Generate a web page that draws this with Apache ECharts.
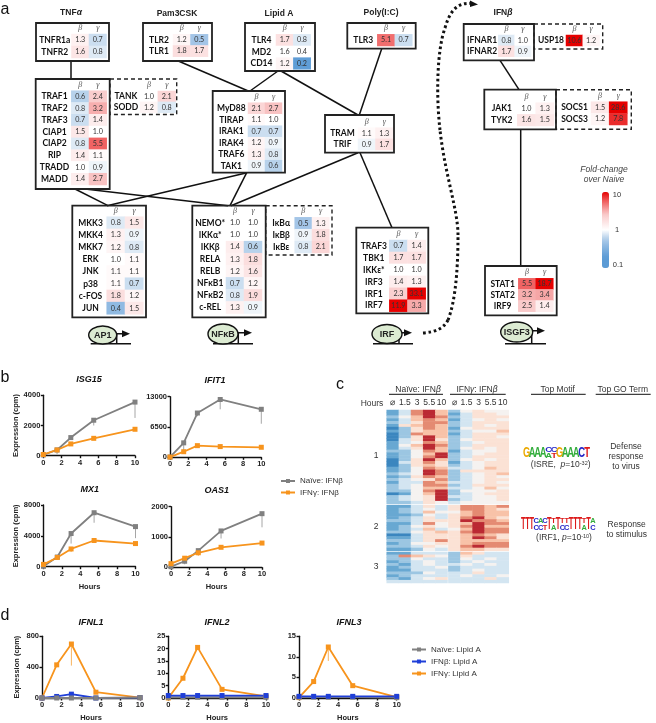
<!DOCTYPE html>
<html><head><meta charset="utf-8">
<script src="https://cdn.jsdelivr.net/npm/echarts@6/dist/echarts.min.js"></script>
<style>html,body{margin:0;padding:0;background:#fff}#c{width:656px;height:723px}</style></head>
<body><div id="c"></div>
<script>
// ---------- fold-change tables (panel a): [beta, gamma] per gene ----------
const tnfGenes=['TNFR1a','TNFR2'];            const tnfVals=[[1.3,.7],[1.6,.8]];
const pamGenes=['TLR2','TLR1'];               const pamVals=[[1.2,.5],[1.8,1.7]];
const lipidGenes=['TLR4','MD2','CD14'];       const lipidVals=[[1.7,.8],[1.6,.4],[1.2,.2]];
const polyGenes=['TLR3'];                     const polyVals=[[5.1,.7]];
const trafGenes=['TRAF1','TRAF2','TRAF3','CIAP1','CIAP2','RIP','TRADD','MADD'];
const trafVals=[[.6,2.4],[.8,3.2],[.7,1.4],[1.5,1.0],[.8,5.5],[1.4,1.1],[1.0,.9],[1.4,2.7]];
const tankGenes=['TANK','SODD'];              const tankVals=[[1.0,2.1],[1.2,.8]];
const myd88Genes=['MyD88','TIRAP','IRAK1','IRAK4','TRAF6','TAK1'];
const myd88Vals=[[2.1,2.7],[1.1,1.0],[.7,.7],[1.2,.9],[1.3,.8],[.9,.6]];
const tramGenes=['TRAM','TRIF'];              const tramVals=[[1.1,1.3],[.9,1.7]];
const mkkGenes=['MKK3','MKK4','MKK7','ERK','JNK','p38','c-FOS','JUN'];
const mkkVals=[[.8,1.5],[1.3,.9],[1.2,.8],[1.0,1.1],[1.1,1.1],[1.1,.7],[1.8,1.2],[.4,1.5]];
const nemoGenes=['NEMO*','IKKα*','IKKβ','RELA','RELB','NFκB1','NFκB2','c-REL'];
const nemoVals=[[1.0,1.0],[1.0,1.0],[1.4,.6],[1.3,1.8],[1.2,1.6],[.7,1.2],[.8,1.9],[1.3,.9]];
const ikbGenes=['IκBα','IκBβ','IκBε'];        const ikbVals=[[.5,1.3],[.9,1.8],[.8,2.1]];
const irfGenes=['TRAF3','TBK1','IKKε*','IRF3','IRF1','IRF7'];
const irfVals=[[.7,1.4],[1.7,1.7],[1.0,1.0],[1.4,1.3],[2.3,33.1],[11.9,3.3]];
const ifnarGenes=['IFNAR1','IFNAR2'];         const ifnarVals=[[.8,1.0],[1.7,.9]];
const uspGenes=['USP18'];                     const uspVals=[[10.6,1.2]];
const jakGenes=['JAK1','TYK2'];               const jakVals=[[1.0,1.3],[1.6,1.5]];
const socsGenes=['SOCS1','SOCS3'];            const socsVals=[[1.5,28.6],[1.2,7.8]];
const statGenes=['STAT1','STAT2','IRF9'];     const statVals=[[5.5,18.7],[3.2,3.4],[2.5,1.4]];
const uncoloured=['MD2'];
const subunits=['β','γ'];

// ---------- time courses (panels b, d) ----------
const hours=[0,1.5,3,5.5,10];
const isgNaive=[50,380,1200,2350,3550];   const isgNaiveLow=[50,100,1100,2000,2500];   const isgGamma=[80,380,780,1150,1750];
const ifitNaive=[50,3100,9500,12400,10300]; const ifitNaiveLow=[50,1500,8800,10300,7200]; const ifitGamma=[50,1200,2500,2300,2150];
const mxNaive=[50,1250,4300,7000,5200];   const mxNaiveLow=[50,1150,3000,5700,3700];   const mxGamma=[300,1200,2300,3400,3000]; const mxGammaLow=[300,1100,1900,3300,2900];
const oasNaive=[20,200,550,1200,1770];    const oasNaiveLow=[20,100,400,950,1320];     const oasGamma=[120,300,480,660,800];   const oasGammaLow=[120,280,380,640,790];
const l1Naive=[0,0,0,0,5];   const l1Beta=[0,20,50,0,5];      const l1Gamma=[0,430,700,75,5];    const l1GammaLow=[0,420,420,70,5];
const l2Naive=[.3,.3,.3,.3,.3]; const l2Beta=[1,1,1,1,1];     const l2Gamma=[0,8,20.5,3.5,.7];   const l2GammaLow=[0,8,19.5,3.3,.7];
const l3Naive=[.2,.2,.2,.2,.1]; const l3Beta=[.4,.4,.4,.4,.4]; const l3Gamma=[.1,4,12.4,3,.2];   const l3GammaLow=[.1,4,9,3,.2];

// ---------- clustered expression heat map (panel c), scaled score per gene ----------
const hourLabels=['⌀','1.5','3','5.5','10'];
const c1Naive=[[-3,-1,3,4,2],[-3,-1,3,4,2],[-2,0,2,4,3],[-3,-1,2,3,2],[-2,-1,1,3,3],[-3,1,2,3,2],[-4,-2,1,3,2],[-3,-2,1,2,2],[-4,-2,3,2,2],[-4,-2,1,4,2],[-4,-1,1,4,1],[-3,-1,0,3,2],[-3,0,2,4,3],[-3,-1,1,4,2],[-2,-2,0,3,2],[-3,-2,0,2,4],[-3,-2,0,3,4],[-4,-2,1,4,2],[-4,-1,1,3,1],[-4,-2,1,2,1],[-3,-2,0,3,2],[-3,-2,0,4,3],[-2,-1,0,4,3],[-3,-2,1,3,2],[-2,-1,0,1,3],[-3,-1,-1,3,2],[-2,-1,0,3,3],[-2,-1,0,2,2],[-2,-2,0,3,4],[-4,-3,0,2,4],[-2,-1,0,1,4],[-2,-1,0,1,4],[-2,-2,-1,1,0]];
const c1Gamma=[[-2,0,1,0,0],[-3,-1,1,1,0],[-2,-1,1,1,1],[-3,-1,0,1,0],[-2,-1,1,1,1],[-2,-1,1,0,1],[-3,0,1,1,1],[-2,-1,0,0,2],[-3,-1,1,1,1],[-2,-1,1,1,0],[-2,0,1,1,1],[-2,-1,0,1,1],[-2,-1,1,1,1],[-2,0,1,0,1],[-3,-1,0,0,1],[-2,-1,0,1,1],[-2,-1,1,1,1],[-2,0,1,0,1],[-3,-1,0,1,1],[-2,-1,0,1,1],[-1,-1,0,2,1],[-2,1,1,1,1],[-2,-1,0,1,2],[-2,-1,0,1,0],[-2,-1,0,1,1],[-1,-1,0,1,0],[-2,-1,1,1,1],[-1,-1,0,2,0],[-2,0,0,0,1],[-2,-1,0,1,1],[-1,-1,0,0,1],[-2,-1,0,0,1],[-1,0,0,0,0]];
const c2Naive=[[-3,-3,-1,1,-1],[-3,-2,-1,0,-1],[-3,-2,-1,2,0],[-3,-3,-2,0,-1],[-3,-2,-1,1,-1],[-2,-2,-1,1,1],[-3,-3,-1,3,0],[-3,-2,0,1,0],[-3,-2,-1,2,-1],[-2,-2,0,1,2],[-4,-4,-1,1,1],[-3,-3,-1,1,1],[-2,-2,-1,1,3],[-3,-2,0,0,1],[-2,-2,-1,1,0],[-3,-3,-2,0,-1]];
const c2Gamma=[[1,3,3,2,3],[1,3,3,2,1],[0,2,3,2,2],[1,2,3,2,2],[1,3,4,2,1],[1,4,3,3,2],[1,2,4,3,3],[1,3,4,2,2],[0,2,4,3,3],[1,3,4,3,3],[1,2,3,2,1],[1,2,4,3,1],[1,2,2,2,2],[1,2,3,3,3],[1,3,4,3,3],[1,2,2,1,1]];
const c3Naive=[[-3,-3,-1,-1,-1],[-2,3,2,1,0],[-2,-2,0,-1,-1],[-3,-2,-1,0,-1],[-2,-3,-1,0,-1],[-3,-2,-1,-1,0],[-3,-3,-1,-1,-1],[-2,-2,-2,0,-1],[-3,-2,-1,-1,-1],[-2,-3,-1,0,1],[-1,-1,-1,-1,-1]];
const c3Gamma=[[-2,2,1,-1,-1],[-2,1,-1,-1,-1],[-2,0,-1,0,-1],[-2,-1,0,-1,-1],[-1,0,-1,0,-1],[-2,-1,-1,-1,-1],[-2,-1,0,-1,-1],[-1,-1,1,-1,-1],[-1,0,-1,-1,0],[-1,-1,-1,1,-1],[-1,-1,-1,-1,-1]];

// ---------- sequence logos, top to bottom in each stack ----------
const logoIsre=[['G'],['A'],['A'],['A'],['C','A'],['C','T'],['G'],['A'],['A'],['A'],['C'],['T']];
const logoIrf1=[['T'],['T'],['T'],['C','C'],['A','C'],['C','T'],['T'],['T','A'],['T'],['T','C'],['T','C'],['T'],['T'],['T'],['T','A'],['T'],['A','C']];

const FC=['#5B9BD5','#5B9BD5','#5B9BD5','#5F9DD6','#6EA6DA','#7FB0DE','#90BAE2','#A3C5E7','#BDD5EC','#DDE9F5','#FFFFFF','#FEF3F3','#FCE5E5','#FBD9D9','#F9CACA','#F7B0B0','#F48F8F','#F17070','#EE4F4F','#EA2A2A','#E60000'];
const RDBU=['#3B86BF','#68A8D2','#9CC6E2','#D3E5F1','#F5F2F0','#FBE2D5','#F8C2A8','#E48A72','#BB2A33'];
const GREY='#808080',ORANGE='#F7941D',BLUE='#1F3FD8';
const SANS='"Liberation Sans",Arial,sans-serif';

const grids=[],xAxes=[],yAxes=[],series=[],titles=[],g=[];
const fcSeries=[],exprSeries=[];

function tbl(genes,vals,box,cell,dashed){
  const gi=grids.length;
  grids.push({left:cell.x,top:cell.y,width:cell.w,height:cell.h});
  xAxes.push({type:'category',gridIndex:gi,data:subunits,position:'top',axisLine:{show:false},axisTick:{show:false},splitLine:{show:false},
    axisLabel:{interval:0,margin:2,fontFamily:'"Liberation Serif",serif',fontStyle:'italic',fontSize:8,color:'#555'}});
  yAxes.push({type:'category',gridIndex:gi,data:genes,inverse:true,axisLine:{show:false},axisTick:{show:false},splitLine:{show:false},
    axisLabel:{interval:0,hideOverlap:false,align:'center',margin:(cell.x-box.x)/2-1,fontFamily:'Lato,sans-serif',fontWeight:'bold',fontSize:8.5,color:'#111'}});
  const data=[];
  vals.forEach((r,y)=>r.forEach((v,x)=>{
    const lg=uncoloured.includes(genes[y])?0:Math.max(-1,Math.min(1,Math.log10(v)));
    data.push([x,y,v,lg]);
  }));
  fcSeries.push(series.length);
  series.push({type:'heatmap',xAxisIndex:gi,yAxisIndex:gi,data,z:3,
    label:{show:true,fontFamily:'Lato,sans-serif',fontSize:7.2,color:'#333',formatter:p=>p.value[2].toFixed(1)},
    itemStyle:{borderWidth:0}});
  g.push({type:'rect',z:dashed?19:20,shape:{x:box.x,y:box.y,width:box.w,height:box.h},
    style:{fill:'none',stroke:'#222',lineWidth:dashed?1.4:1.8,lineDash:dashed?[4,3]:null}});
}
tbl(tnfGenes,tnfVals,{x:36,y:23,w:73,h:38},{x:71.5,y:34,w:35,h:24});
tbl(pamGenes,pamVals,{x:143,y:23,w:69,h:38},{x:173,y:34.3,w:35,h:22.4});
tbl(lipidGenes,lipidVals,{x:245,y:23,w:70,h:48},{x:276,y:34.3,w:34.7,h:35});
tbl(polyGenes,polyVals,{x:347.3,y:23,w:68.4,h:25.7},{x:377.3,y:34.3,w:35,h:11.7});
tbl(tankGenes,tankVals,{x:110,y:79,w:66.7,h:35.5},{x:140,y:91,w:35.7,h:21.7},true);
tbl(trafGenes,trafVals,{x:35.7,y:79,w:74,h:110},{x:71.3,y:90.7,w:35.4,h:94.3});
tbl(myd88Genes,myd88Vals,{x:212.7,y:91,w:72.3,h:81.7},{x:248,y:102.7,w:34,h:69});
tbl(tramGenes,tramVals,{x:325,y:115,w:69,h:37.7},{x:358,y:127.7,w:35,h:22.3});
tbl(mkkGenes,mkkVals,{x:72.3,y:205.7,w:73.7,h:111.6},{x:106.7,y:216.7,w:36.6,h:97.6});
tbl(ikbGenes,ikbVals,{x:265.7,y:205.7,w:66.3,h:49.3},{x:294.7,y:217.3,w:34.6,h:35.7},true);
tbl(nemoGenes,nemoVals,{x:192.3,y:205.7,w:73.4,h:111.6},{x:226,y:217,w:36,h:96.5});
tbl(irfGenes,irfVals,{x:356.3,y:227.7,w:72,h:85.6},{x:389.3,y:240,w:36.4,h:71.7});
tbl(uspGenes,uspVals,{x:534,y:24,w:68.7,h:25},{x:566,y:35,w:33.5,h:11},true);
tbl(ifnarGenes,ifnarVals,{x:463.7,y:24,w:70.3,h:36.3},{x:498.3,y:35,w:32.7,h:21.7});
tbl(socsGenes,socsVals,{x:556,y:89.7,w:75.3,h:39.6},{x:591,y:101.7,w:36.3,h:23.3},true);
tbl(jakGenes,jakVals,{x:484.3,y:89.7,w:71.7,h:39.6},{x:517.3,y:102.7,w:36.7,h:23.3});
tbl(statGenes,statVals,{x:485,y:266,w:71.7,h:49.3},{x:518.3,y:278.3,w:35,h:33.4});

// heat map panel c
function expr(rows,x,y,w,h,showHours){
  const gi=grids.length;
  grids.push({left:x,top:y,width:w,height:h});
  xAxes.push({type:'category',gridIndex:gi,data:hourLabels,position:'top',show:showHours,axisLine:{show:false},axisTick:{show:false},
    axisLabel:{interval:0,margin:3,fontFamily:SANS,fontSize:8.5,color:'#333'}});
  yAxes.push({type:'category',gridIndex:gi,data:rows.map((_,i)=>i),inverse:true,show:false});
  const data=[];rows.forEach((r,j)=>r.forEach((v,i)=>data.push([i,j,v])));
  exprSeries.push(series.length);
  series.push({type:'heatmap',xAxisIndex:gi,yAxisIndex:gi,data,z:3});
}
expr(c1Naive,386.7,410,60.8,94,true);  expr(c1Gamma,448.4,410,60.4,94,true);
expr(c2Naive,386.7,505.2,60.8,45.6,false); expr(c2Gamma,448.4,505.2,60.4,45.6,false);
expr(c3Naive,386.7,552,60.8,31,false); expr(c3Gamma,448.4,552,60.4,31,false);

// line charts
const plainNumber=v=>String(v);
function chart(title,tx,ty,x0,x1,yTop,y0,ymax,yint,yName,lines,xLabel){
  const gi=grids.length;
  grids.push({left:x0,top:yTop,width:x1-x0,height:y0-yTop});
  const ax={color:'#111',width:1.4};
  xAxes.push({type:'value',gridIndex:gi,min:0,max:10,interval:2,splitLine:{show:false},
    axisLine:{onZero:false,lineStyle:ax},axisTick:{length:2.5,lineStyle:ax},
    axisLabel:{margin:3,fontFamily:SANS,fontWeight:'bold',fontSize:7.5,color:'#222',formatter:plainNumber},
    name:xLabel?'Hours':'',nameLocation:'middle',nameGap:16,nameTextStyle:{fontFamily:SANS,fontWeight:'bold',fontSize:7.5,color:'#222'}});
  yAxes.push({type:'value',gridIndex:gi,min:0,max:ymax,interval:yint,splitLine:{show:false},
    axisLine:{onZero:false,lineStyle:ax},axisTick:{length:2.5,lineStyle:ax},
    axisLabel:{margin:3,fontFamily:SANS,fontWeight:'bold',fontSize:7.5,color:'#222',formatter:plainNumber},
    name:yName?'Expression (cpm)':'',nameLocation:'middle',nameGap:21,nameTextStyle:{fontFamily:SANS,fontWeight:'bold',fontSize:7.5,color:'#222'}});
  titles.push({text:title,left:tx,top:ty-6,textAlign:'center',padding:0,textStyle:{fontFamily:SANS,fontStyle:'italic',fontWeight:'bold',fontSize:9,color:'#111'}});
  lines.forEach(l=>{
    if(l.low) series.push({type:'custom',xAxisIndex:gi,yAxisIndex:gi,z:2,silent:true,clip:false,
      data:hours.map((h,i)=>[h,l.low[i],l.vals[i]]),encode:{x:0,y:[1,2]},
      renderItem:(p,api)=>{const a=api.coord([api.value(0),api.value(1)]),b=api.coord([api.value(0),api.value(2)]);
        return {type:'line',shape:{x1:a[0],y1:a[1],x2:b[0],y2:b[1]},style:{stroke:l.c,lineWidth:1,opacity:.7}};}});
    series.push({type:'line',name:l.n,xAxisIndex:gi,yAxisIndex:gi,z:4,clip:false,data:hours.map((h,i)=>[h,l.vals[i]]),
      symbol:'rect',symbolSize:5,lineStyle:{color:l.c,width:1.8},itemStyle:{color:l.c}});
  });
}
const nB='Naïve: IFNβ',gB='IFNγ: IFNβ',nL='Naïve: Lipid A',bL='IFNβ: Lipid A',gL='IFNγ: Lipid A';
chart('ISG15',89,381,43.3,135,395.3,455.7,4000,2000,true,[{n:nB,c:GREY,vals:isgNaive,low:isgNaiveLow},{n:gB,c:ORANGE,vals:isgGamma}],false);
chart('IFIT1',215,382,170,261.3,396.7,457.3,13000,6500,false,[{n:nB,c:GREY,vals:ifitNaive,low:ifitNaiveLow},{n:gB,c:ORANGE,vals:ifitGamma}],false);
chart('MX1',89.7,491,43.5,135.5,505,566.7,8000,4000,true,[{n:nB,c:GREY,vals:mxNaive,low:mxNaiveLow},{n:gB,c:ORANGE,vals:mxGamma,low:mxGammaLow}],true);
chart('OAS1',216.7,492,171,262,506.7,567.3,2000,1000,false,[{n:nB,c:GREY,vals:oasNaive,low:oasNaiveLow},{n:gB,c:ORANGE,vals:oasGamma,low:oasGammaLow}],true);
chart('IFNL1',91,624,42,140,636.3,701.7,800,400,true,[{n:gL,c:ORANGE,vals:l1Gamma,low:l1GammaLow},{n:bL,c:BLUE,vals:l1Beta},{n:nL,c:GREY,vals:l1Naive}],true);
chart('IFNL2',217,624,168.3,266,636.3,701.7,25,5,false,[{n:gL,c:ORANGE,vals:l2Gamma,low:l2GammaLow},{n:nL,c:GREY,vals:l2Naive},{n:bL,c:BLUE,vals:l2Beta}],true);
chart('IFNL3',349,624,299,396.7,636.3,701.7,15,5,false,[{n:gL,c:ORANGE,vals:l3Gamma,low:l3GammaLow},{n:nL,c:GREY,vals:l3Naive},{n:bL,c:BLUE,vals:l3Beta}],true);

// diagram annotations
function T(text,x,y,o){o=o||{};
  g.push({type:'text',z:25,x,y,style:Object.assign({text,fill:o.fill||'#222',font:(o.font||'8.5px '+SANS),textAlign:o.align||'center',textVerticalAlign:'middle',lineHeight:o.lh||10},o.rich?{rich:o.rich}:{})});}
const connectors=[[71,61,71,79],[178.3,61,248.3,91],[278,71,250,91],[281,71,358,115],[381.7,48.7,359.3,115],
 [75,189,108,205.7],[85,189,228,205.7],[247,172.7,107,205.7],[246.7,172.7,230,205.7],[358,152.7,231,205.7],[360,152.7,392,227.7],
 [500,60.3,519,89.7],[520.7,129.3,520.7,266]];
connectors.forEach(c=>g.push({type:'line',z:9,shape:{x1:c[0],y1:c[1],x2:c[2],y2:c[3]},style:{stroke:'#111',lineWidth:1.5}}));
const dotted=[[423,333,436,332,444,328,448,320],[448,320,456,300,458,265,458,235],[458,235,458,210,445,175,440,130],[440,130,436,95,437,50,445,28],[445,28,450,10,458,2,472,3.5]];
dotted.forEach(d=>g.push({type:'bezierCurve',z:9,shape:{x1:d[0],y1:d[1],cpx1:d[2],cpy1:d[3],cpx2:d[4],cpy2:d[5],x2:d[6],y2:d[7]},
  style:{fill:'none',stroke:'#111',lineWidth:3,lineDash:[2.6,2.8]}}));
g.push({type:'polygon',z:9,shape:{points:[[470,0.5],[478,4.5],[470,7]]},style:{fill:'#111'}});

function promoter(label,cx,cy,rx,ry,bx0,bx1,stem,fs){
  const by=343.7,ay=cy-1.2;
  g.push({type:'line',z:9,shape:{x1:bx0,y1:by,x2:bx1,y2:by},style:{stroke:'#111',lineWidth:1.5}});
  g.push({type:'polyline',z:9,shape:{points:[[stem,by],[stem,ay],[bx1-5,ay]]},style:{fill:'none',stroke:'#111',lineWidth:1.5}});
  g.push({type:'polygon',z:9,shape:{points:[[bx1-9,ay-3.5],[bx1-1,ay],[bx1-9,ay+3.5]]},style:{fill:'#111'}});
  g.push({type:'ellipse',z:12,shape:{cx,cy,rx,ry},style:{fill:'#DCEBD2',stroke:'#111',lineWidth:1.4}});
  T(label,cx,cy+.5,{font:'bold '+(fs||9)+'px '+SANS});
}
promoter('AP1',102.7,335,14,9,90.7,131,116.7);
promoter('NFκB',223,334,15,10,213,253,238.3);
promoter('IRF',387,334,15,9.5,373,413,399);
promoter('ISGF3',516.7,332,16,10,505,546,531.7);

const it={i:{fontFamily:SANS,fontStyle:'italic',fontWeight:'bold',fontSize:8.5,fill:'#222'}};
T('TNF{i|α}',71,13,{font:'bold 8.5px '+SANS,rich:it});
T('Pam3CSK',177,14,{font:'bold 8.5px '+SANS});
T('Lipid A',279,14,{font:'bold 8.5px '+SANS});
T('Poly(I:C)',381,13,{font:'bold 8.5px '+SANS});
T('IFN{i|β}',503,13,{font:'bold 8.5px '+SANS,rich:it});
[['a',5,10],['b',5,378],['c',340,385],['d',5,616]].forEach(p=>T(p[0],p[1],p[2],{font:'16px '+SANS,fill:'#111'}));

T('Fold-change\nover Naive',604,175,{font:'italic 8.5px '+SANS,fill:'#444',lh:10});
T('10',617,195,{font:'7.5px '+SANS,fill:'#333'});T('1',617,229.7,{font:'7.5px '+SANS,fill:'#333'});T('0.1',618,265,{font:'7.5px '+SANS,fill:'#333'});

// panel c heads
const itl={i:{fontFamily:SANS,fontStyle:'italic',fontSize:8.5,fill:'#333'}};
T('Naïve: IFN{i|β}',418,389.5,{rich:itl,fill:'#333'});
T('IFN{i|γ}: IFN{i|β}',477,389.5,{rich:itl,fill:'#333'});
T('Top Motif',557.7,389.5,{fill:'#333'});T('Top GO Term',622.7,389.5,{fill:'#333'});
[[389,443],[450,505.7],[531,585.7],[595.7,650.7]].forEach(u=>g.push({type:'line',z:9,shape:{x1:u[0],y1:394.3,x2:u[1],y2:394.3},style:{stroke:'#111',lineWidth:1}}));
T('Hours',372,403.3,{fill:'#333'});
T('1',376,456,{fill:'#333'});T('2',376,526.7,{fill:'#333'});T('3',376,567,{fill:'#333'});
const sup={s:{fontFamily:SANS,fontSize:5.5,verticalAlign:'top',fill:'#333'},i:itl.i};
T('(ISRE,  {i|p}=10{s|-32})',560.7,465,{rich:sup,fill:'#333'});
T('(IRF1, {i|p}=10{s|-10})',564,538,{rich:sup,fill:'#333'});
T('Defense\nresponse\nto virus',626,456.5,{fill:'#333',lh:10});
T('Response\nto stimulus',626.7,530,{fill:'#333',lh:10});

const LOGO={G:'#EBA900',A:'#33AD3C',C:'#2626C8',T:'#DC1A1A'};
function logo(cols,x0,x1,yBottom,height){
  const w=(x1-x0)/cols.length;
  cols.forEach((stack,i)=>{
    const h=height/stack.length;
    stack.forEach((ch,k)=>{
      const top=yBottom-height+k*h;
      g.push({type:'text',z:15,x:x0+(i+.5)*w,y:top,scaleX:w/7,scaleY:h/10,
        style:{text:ch,fill:LOGO[ch],font:'bold 12px '+SANS,textAlign:'center',textVerticalAlign:'top'}});
    });
  });
}
logo(logoIsre,524,590,458,12);
logo(logoIrf1,521,595,530,13);

const legendText={fontFamily:SANS,fontSize:8,color:'#333'};
const option={animation:false,backgroundColor:'#fff',title:titles,grid:grids,xAxis:xAxes,yAxis:yAxes,series,
 graphic:{elements:g},
 visualMap:[
  {type:'continuous',seriesIndex:fcSeries,dimension:3,min:-1,max:1,inRange:{color:FC},show:true,left:602,top:192,itemWidth:7,itemHeight:76,padding:0,showLabel:false,calculable:false,hoverLink:false,text:['','']},
  {type:'continuous',seriesIndex:exprSeries,dimension:2,min:-4,max:4,inRange:{color:RDBU},show:false}
 ],
 legend:[
  {data:[nB,gB],left:280,top:477,padding:0,orient:'vertical',itemWidth:14,itemHeight:5,itemGap:3.5,textStyle:legendText},
  {data:[nL,bL,gL],left:411,top:645.5,padding:0,orient:'vertical',itemWidth:14,itemHeight:5,itemGap:4,textStyle:legendText}
 ]};
echarts.init(document.getElementById('c'),null,{renderer:'canvas'}).setOption(option);
</script></body></html>
